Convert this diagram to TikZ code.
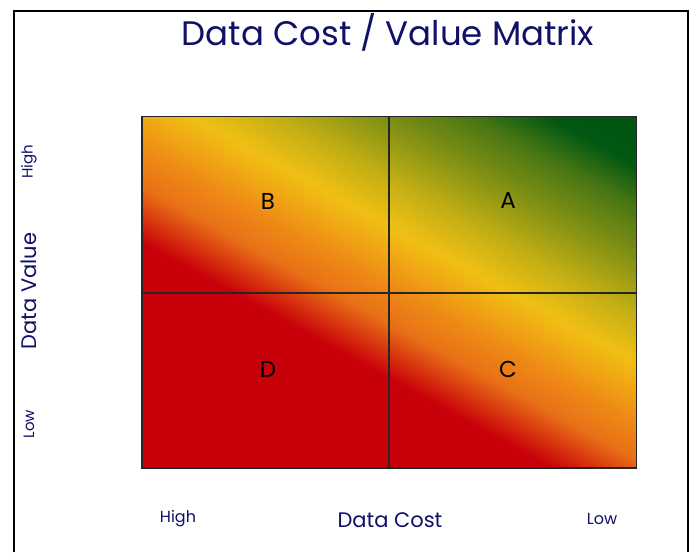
\documentclass[tikz,border=0pt]{standalone}
\usepackage{fontspec}
\setmainfont{Poppins}
\definecolor{navytxt}{RGB}{16,16,104}
\definecolor{g0}{RGB}{200,0,10}
\definecolor{g1}{RGB}{215,50,15}
\definecolor{g2}{RGB}{232,112,22}
\definecolor{g3}{RGB}{238,140,22}
\definecolor{g4}{RGB}{240,168,20}
\definecolor{g5}{RGB}{240,192,20}
\definecolor{g6}{RGB}{195,175,20}
\definecolor{g7}{RGB}{130,145,20}
\definecolor{g8}{RGB}{75,120,20}
\definecolor{g9}{RGB}{0,88,18}
\definecolor{g10}{RGB}{0,85,18}
\tikzset{
  titletxt/.style={text=navytxt, font=\fontsize{34}{40}\selectfont, inner sep=0pt},
  axistxt/.style={text=navytxt, font=\fontsize{21}{25}\selectfont, inner sep=0pt},
  smalltxt/.style={text=navytxt, font=\fontsize{16}{19}\selectfont, inner sep=0pt},
  sidetxt/.style={text=navytxt, font=\fontsize{15}{18}\selectfont, inner sep=0pt, rotate=90},
  quadtxt/.style={text=black, font=\fontsize{23}{27}\selectfont, inner sep=0pt},
  gridline/.style={draw=black!85, line width=1.6pt},
  frameline/.style={draw=black, line width=2.4pt}
}
\begin{document}
\begin{tikzpicture}[x=1pt,y=-1pt]
\useasboundingbox[fill=white] (0,0) rectangle (693,552);
% outer frame (open at the bottom)
\coordinate (fbl) at (14,552);
\coordinate (ftl) at (14,11);
\coordinate (ftr) at (688,11);
\coordinate (fbr) at (688,552);
\draw[frameline] (fbl) -- (ftl) -- (ftr) -- (fbr);
% matrix gradient
\coordinate (mtl) at (142,116.5);
\coordinate (mbr) at (636.5,468);
\coordinate (mtop) at (389,116.5);
\coordinate (mbot) at (389,468);
\coordinate (mleft) at (142,293);
\coordinate (mright) at (636.5,293);
\begin{scope}
\clip (mtl) rectangle (mbr);
\fill[g0] (mtl) rectangle (mbr);
\foreach \ua/\ub/\ca/\cb in {-165/-140/g0/g1,-140/-110/g1/g2,-110/-70/g2/g3,-70/-40/g3/g4,-40/-12/g4/g5,-12/35/g5/g6,35/90/g6/g7,90/140/g7/g8,140/185/g8/g9,185/240/g9/g10}{
  \pgfmathtruncatemacro\n{(\ub-\ua)/2}
  \foreach \k in {1,...,\n}{
    \pgfmathsetmacro\va{\ua+(\k-1)*(\ub-\ua)/\n}
    \pgfmathsetmacro\vb{\ua+\k*(\ub-\ua)/\n+0.6}
    \pgfmathtruncatemacro\p{100*(\k-0.5)/\n}
    \fill[\cb!\p!\ca] (120,{0.55*120-\va}) -- (660,{0.55*660-\va}) -- (660,{0.55*660-\vb}) -- (120,{0.55*120-\vb}) -- cycle;
  }
}
\end{scope}
\draw[gridline] (mtl) rectangle (mbr);
\draw[gridline] (mtop) -- (mbot);
\draw[gridline] (mleft) -- (mright);
% quadrant letters
\node[quadtxt] (qb) at (268,201) {B};
\node[quadtxt] (qa) at (508,201) {A};
\node[quadtxt] (qd) at (268,369) {D};
\node[quadtxt] (qc) at (508,369) {C};
% title
\node[titletxt] (title) at (388,32) {Data Cost / Value Matrix};
% axis labels
\node[axistxt] (xcost) at (390,520) {Data Cost};
\node[smalltxt] (xhigh) at (178,519) {High};
\node[smalltxt] (xlow) at (602,519) {Low};
\node[axistxt, rotate=90] (yval) at (29,291) {Data Value};
\node[sidetxt] (yhigh) at (29,162) {High};
\node[sidetxt] (ylow) at (29,424) {Low};
\end{tikzpicture}
\end{document}
